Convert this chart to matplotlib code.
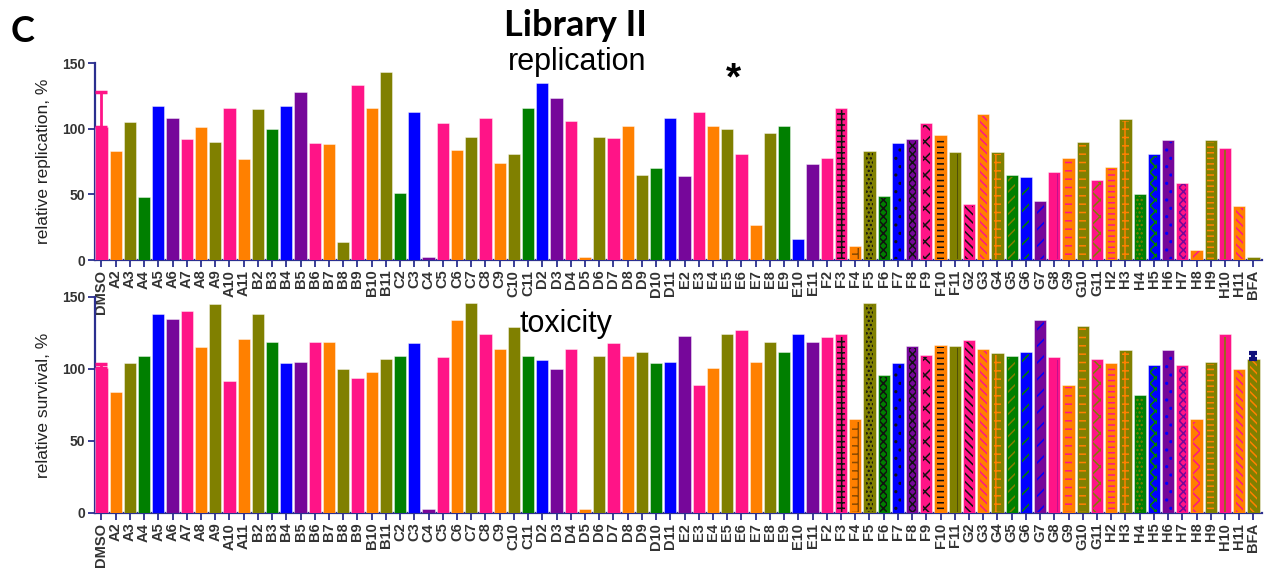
import matplotlib
matplotlib.use('Agg')
import matplotlib.pyplot as plt
import numpy as np

plt.rcParams['font.family'] = ['Liberation Sans', 'DejaVu Sans']
plt.rcParams['hatch.linewidth'] = 1.1

# compound labels
labels = ['DMSO'] + [r + str(c) for r in 'ABCDEFGH' for c in range(2, 12)] + ['BFA']

# relative replication, %
replication = [101, 83, 105, 48, 117, 108, 92, 101, 90, 116, 77,
               115, 100, 117, 128, 89, 88, 14, 133, 116, 143,
               51, 113, 2.5, 104, 84, 94, 108, 74, 81, 116,
               135, 123, 106, 2.5, 94, 93, 102, 65, 70, 108,
               64, 113, 102, 100, 81, 27, 97, 102, 16, 73,
               78, 116, 11, 83, 49, 89, 92, 104, 95, 82,
               43, 111, 82, 65, 63, 45, 67, 78, 90, 61,
               71, 107, 50, 81, 91, 59, 8, 91, 85, 41,
               2.5]
replication_err = {'DMSO': 27}

# relative survival, %
survival = [101, 84, 104, 109, 138, 135, 140, 115, 145, 92, 121,
            138, 119, 104, 105, 119, 119, 100, 94, 98, 107,
            109, 118, 2.5, 108, 134, 146, 124, 114, 129, 109,
            106, 100, 114, 2.5, 109, 118, 109, 112, 104, 105,
            123, 89, 101, 124, 127, 105, 119, 112, 124, 119,
            122, 124, 65, 146, 96, 104, 116, 110, 117, 116,
            120, 114, 111, 109, 112, 134, 108, 89, 130, 107,
            104, 113, 82, 103, 113, 103, 65, 105, 124, 100,
            107]
survival_err = {'DMSO': 2.5, 'BFA': 4}

# colour code of each bar
color_codes = ('P' + 'OLGBVPOLPO' + 'LGBVPOLPOL' + 'GBVPOLPOLG' + 'BVPOLPOLGB'
               + 'VPOLPOLGBV' + 'PPOLGBVPOL' + 'POLGBVPOLP' + 'OLGBVPOLPO' + 'L')
palette = {'P': '#FF1487', 'O': '#FF8000', 'L': '#808000', 'G': '#007F00',
           'B': '#0000FF', 'V': '#76079A', 'K': '#111111', 'D': '#8A4A00'}

# patterns from F3 on: (label, hatch, hatch colour code)
patterns = [('F3', '+++', 'K'), ('F4', '+-', 'D'), ('F5', '....', 'K'),
            ('F6', 'xxxx', 'K'), ('F7', '..', 'K'), ('F8', 'xxxx', 'K'),
            ('F9', 'xx', 'K'), ('F10', '---', 'K'), ('F11', '|', 'K'),
            ('G2', '\\\\\\\\', 'K'), ('G3', '\\\\\\\\', 'P'), ('G4', '++', 'O'),
            ('G5', '///', 'L'), ('G6', '//', 'G'), ('G7', '//', 'B'),
            ('G8', '|', 'V'), ('G9', '--', 'P'), ('G10', '--', 'O'),
            ('G11', 'xx', 'L'), ('H2', '---', 'P'), ('H3', '+-', 'O'),
            ('H4', '....', 'L'), ('H5', 'xxx', 'G'), ('H6', '..', 'B'),
            ('H7', 'xxxx', 'V'), ('H8', 'xx', 'P'), ('H9', '---', 'O'),
            ('H10', '|', 'L'), ('H11', '\\\\\\\\', 'P'), ('BFA', '\\\\\\\\', 'O')]

navy = '#2B2F8F'
colors = [palette[c] for c in color_codes]
x = np.arange(len(labels))


def panel(ax, values, errs, ylabel):
    ax.patch.set_alpha(0)
    ax.bar(x, values, width=0.86, color=colors, edgecolor=(1, 1, 1, 0.6),
           linewidth=0.5, zorder=3)
    # hatch overlays
    for lab, h, hc in patterns:
        i = labels.index(lab)
        ax.bar(x[i], values[i] - 2, width=0.5, bottom=0.5, facecolor='none',
               edgecolor=palette[hc], hatch=h, linewidth=0, zorder=3.5)
    for lab, e in errs.items():
        i = labels.index(lab)
        if lab == 'DMSO':
            ax.errorbar(x[i], values[i], yerr=[[0], [e]], color=colors[i], capsize=4,
                        capthick=2.5, elinewidth=2, zorder=4)
        else:
            ax.errorbar(x[i], values[i], yerr=[[0], [e]], color='#10107A', capsize=3,
                        capthick=3, elinewidth=3, zorder=4)
    ax.set_xlim(-0.45, 81.6)
    ax.set_ylim(0, 150)
    ax.set_yticks([0, 50, 100, 150])
    ax.set_xticks(x)
    ax.set_xticklabels(labels, rotation=90, fontsize=10.5, fontweight='bold', color='#333333')
    for t in ax.get_yticklabels():
        t.set_fontweight('bold')
    ax.tick_params(axis='y', labelsize=10, labelcolor='#333333')
    ax.tick_params(direction='out', length=5, width=1.3, color=navy, pad=2)
    for s in ['top', 'right']:
        ax.spines[s].set_visible(False)
    for s in ['left', 'bottom']:
        ax.spines[s].set_color(navy)
        ax.spines[s].set_linewidth(1.6)
    ax.set_ylabel(ylabel, fontsize=12.5, color='#222222', labelpad=8)


fig = plt.figure(figsize=(12.65, 5.76), dpi=100)
ax1 = fig.add_axes([0.0751, 0.5486, 0.9225, 0.342])
ax2 = fig.add_axes([0.0751, 0.1094, 0.9225, 0.375])

panel(ax1, replication, replication_err, 'relative replication, %')
panel(ax2, survival, survival_err, 'relative survival, %')

fig.text(0.455, 0.955, 'Library II', fontsize=26, fontweight='bold', ha='center', va='center',
         family=['Lato', 'DejaVu Sans'])
fig.text(0.456, 0.893, 'replication', fontsize=22, ha='center', va='center')
fig.text(0.58, 0.862, '*', fontsize=28, fontweight='bold', ha='center', va='center')
fig.text(0.018, 0.945, 'C', fontsize=26, fontweight='bold', ha='center', va='center',
         family=['Lato', 'DejaVu Sans'])
fig.text(0.447, 0.438, 'toxicity', fontsize=22, ha='center', va='center')

fig.savefig('out.png', dpi=100)
